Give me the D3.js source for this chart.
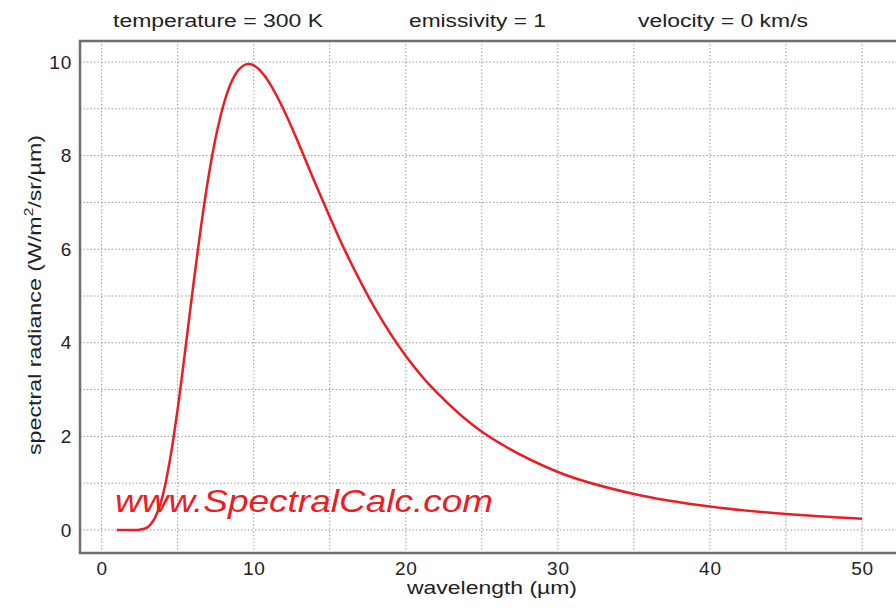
<!DOCTYPE html>
<html>
<head>
<meta charset="utf-8">
<script src="https://cdn.jsdelivr.net/npm/d3@7"></script>
<style>
  body { margin: 0; background: #fff; }
  text { font-family: "Liberation Sans", Arial, sans-serif; fill: #222; }
</style>
</head>
<body>
<div id="chart"></div>
<script>
const WIDTH = 896;
const HEIGHT = 608;

// wavelength (µm) and spectral radiance
const wavelength = [1, 2, 2.5, 3, 3.5, 4, 4.5, 5, 5.5, 6, 6.5, 7, 7.5, 8, 8.5, 9, 9.5, 10, 10.5, 11, 12, 13, 14, 15, 16, 18, 20, 22, 25, 30, 35, 40, 45, 50];
const radiance = [0, 0.0001, 0.006, 0.056, 0.26, 0.72, 1.52, 2.6, 3.86, 5.17, 6.41, 7.5, 8.39, 9.07, 9.55, 9.83, 9.95, 9.93, 9.79, 9.57, 8.96, 8.22, 7.44, 6.69, 5.97, 4.72, 3.72, 2.95, 2.1, 1.24, 0.77, 0.5, 0.34, 0.24];

const headerLabels = ["temperature = 300 K", "emissivity = 1", "velocity = 0 km/s"];
const headerX = [113, 409, 638];
const headerW = [210, 137, 170];

const xTicks = [0, 10, 20, 30, 40, 50];
const yTicks = [0, 2, 4, 6, 8, 10];

const margin = { left: 80, top: 41, bottom: 553 };

const x = d3.scaleLinear().domain([0, 50]).range([101.7, 862]);
const y = d3.scaleLinear().domain([0, 10]).range([530, 62]);

const svg = d3.select("#chart")
    .append("svg")
    .attr("width", WIDTH)
    .attr("height", HEIGHT);

// grid
const gridX = d3.range(0, 60, 5);
const gridY = d3.range(0, 11, 1);

svg.append("g")
    .selectAll("line")
    .data(gridX)
    .enter().append("line")
    .attr("x1", d => x(d)).attr("x2", d => x(d))
    .attr("y1", margin.top).attr("y2", margin.bottom)
    .attr("stroke", "#9a9a9a")
    .attr("stroke-width", 1)
    .attr("stroke-dasharray", "1.5,2");

svg.append("g")
    .selectAll("line")
    .data(gridY)
    .enter().append("line")
    .attr("x1", margin.left).attr("x2", WIDTH)
    .attr("y1", d => y(d)).attr("y2", d => y(d))
    .attr("stroke", "#9a9a9a")
    .attr("stroke-width", 1)
    .attr("stroke-dasharray", "1.5,2");

// frame (left, top, bottom)
svg.append("path")
    .attr("d", `M${WIDTH},${margin.top}H${margin.left}V${margin.bottom}H${WIDTH}`)
    .attr("fill", "none")
    .attr("stroke", "#6e6e6e")
    .attr("stroke-width", 2.5);

// axes labels, no tick lines
const xAxis = d3.axisBottom(x).tickValues(xTicks).tickSize(0).tickPadding(9);
const gx = svg.append("g")
    .attr("transform", `translate(0,${margin.bottom})`)
    .call(xAxis);
gx.select(".domain").remove();
gx.selectAll("text")
    .style("font-size", "19px")
    .style("letter-spacing", "0.8px")
    .style("font-family", "Liberation Sans, Arial, sans-serif")
    .attr("fill", "#222");

const yAxis = d3.axisLeft(y).tickValues(yTicks).tickSize(0).tickPadding(8);
const gy = svg.append("g")
    .attr("transform", `translate(${margin.left},0)`)
    .call(yAxis);
gy.select(".domain").remove();
gy.selectAll("text")
    .style("font-size", "19px")
    .style("letter-spacing", "0.8px")
    .style("font-family", "Liberation Sans, Arial, sans-serif")
    .attr("fill", "#222");

// header
svg.append("g")
    .selectAll("text")
    .data(headerLabels)
    .enter().append("text")
    .attr("x", (d, i) => headerX[i])
    .attr("y", 27)
    .attr("textLength", (d, i) => headerW[i])
    .attr("lengthAdjust", "spacingAndGlyphs")
    .style("font-size", "17.5px")
    .text(d => d);

// axis titles
svg.append("text")
    .attr("x", 407)
    .attr("y", 594)
    .attr("textLength", 170)
    .attr("lengthAdjust", "spacingAndGlyphs")
    .style("font-size", "18px")
    .text("wavelength (µm)");

const yt = svg.append("text")
    .attr("transform", "translate(41,455) rotate(-90)")
    .attr("textLength", 320)
    .attr("lengthAdjust", "spacingAndGlyphs")
    .style("font-size", "18px");
yt.append("tspan").text("spectral radiance (W/m");
yt.append("tspan").attr("dy", -8).style("font-size", "12px").text("2");
yt.append("tspan").attr("dy", 8).text("/sr/µm)");

// watermark
svg.append("text")
    .attr("x", 115)
    .attr("y", 512)
    .attr("textLength", 378)
    .attr("lengthAdjust", "spacingAndGlyphs")
    .style("font-size", "32px")
    .style("font-style", "italic")
    .style("fill", "#ee1c24")
    .text("www.SpectralCalc.com");

// curve
const line = d3.line()
    .x((d, i) => x(wavelength[i]))
    .y(d => y(d))
    .curve(d3.curveCatmullRom);

svg.append("path")
    .datum(radiance)
    .attr("d", line)
    .attr("fill", "none")
    .attr("stroke", "#ec1c24")
    .attr("stroke-width", 2.5);
</script>
</body>
</html>
